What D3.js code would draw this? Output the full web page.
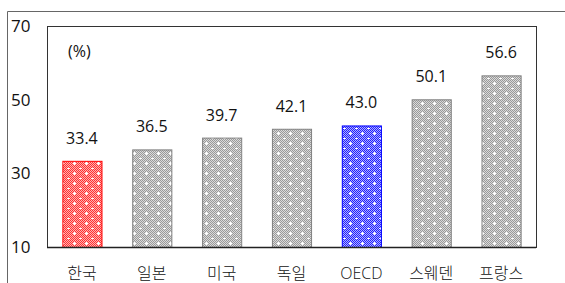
<!DOCTYPE html>
<html>
<head>
<meta charset="utf-8">
<script src="https://cdn.jsdelivr.net/npm/d3@7"></script>
<style>
  body { margin: 0; background: #fff; }
  svg { display: block; font-family: "Open Sans", "Noto Sans CJK KR", sans-serif; }
</style>
</head>
<body>
<svg id="chart" width="565" height="283"></svg>
<script>
var categories = ['한국', '일본', '미국', '독일', 'OECD', '스웨덴', '프랑스'];
var values = [33.4, 36.5, 39.7, 42.1, 43.0, 50.1, 56.6];
var y_ticks = [10, 30, 50, 70];
var highlight = {'한국': 'red', 'OECD': 'blue'};

var palette = {
    red:  {edge: '#ff0000', dark: '#ff3030', light: '#ffb0b0'},
    blue: {edge: '#0000ff', dark: '#2020ff', light: '#b0b0ff'},
    gray: {edge: '#808080', dark: '#999999', light: '#dadada'}
};

var svg = d3.select('#chart');
var padding = {top: 26, left: 47, right: 29, bottom: 36};
var width = 565, height = 283;

// outer frame (only top and left visible)
svg.append('line').attr('x1', 7.5).attr('x2', width).attr('y1', 11.5).attr('y2', 11.5)
    .attr('stroke', '#666').attr('stroke-width', 1);
svg.append('line').attr('x1', 7.5).attr('x2', 7.5).attr('y1', 11.5).attr('y2', height)
    .attr('stroke', '#666').attr('stroke-width', 1);

// hatch-like patterns
var defs = svg.append('defs');
Object.keys(palette).forEach(function(k){
    var c = palette[k];
    var p = defs.append('pattern').attr('id', 'pat-' + k)
        .attr('patternUnits', 'userSpaceOnUse').attr('width', 12).attr('height', 10);
    p.append('rect').attr('width', 12).attr('height', 10).attr('fill', c.light);
    for (var yy = 0; yy < 10; yy++) {
        for (var xx = (yy % 2); xx < 12; xx += 2) {
            p.append('rect').attr('x', xx).attr('y', yy).attr('width', 1).attr('height', 1).attr('fill', c.dark);
        }
    }
    // plus sign
    p.append('rect').attr('x', 2).attr('y', 2).attr('width', 1).attr('height', 3).attr('fill', '#fff');
    p.append('rect').attr('x', 1).attr('y', 3).attr('width', 3).attr('height', 1).attr('fill', '#fff');
    // minus sign
    p.append('rect').attr('x', 7).attr('y', 8).attr('width', 3).attr('height', 1).attr('fill', '#fff');
});

var x_scale = d3.scaleBand()
    .domain(categories)
    .range([padding.left, width - padding.right])
    .paddingInner(0.44).paddingOuter(0.22);

var y_scale = d3.scaleLinear()
    .domain([10, 70])
    .range([height - padding.bottom, padding.top]);

// plot box
svg.append('rect')
    .attr('x', padding.left + 0.5).attr('y', padding.top + 0.5)
    .attr('width', width - padding.left - padding.right)
    .attr('height', height - padding.top - padding.bottom)
    .attr('fill', 'none').attr('stroke', '#333').attr('stroke-width', 1);

// y tick labels
svg.selectAll('.ytick')
    .data(y_ticks)
    .enter()
    .append('text')
    .attr('class', 'ytick')
    .attr('x', 11)
    .attr('y', function(d){ return y_scale(d); })
    .attr('dy', '0.36em')
    .attr('font-size', 17)
    .attr('fill', '#111')
    .text(function(d){ return d; });

// bars
svg.selectAll('.bar')
    .data(categories)
    .enter()
    .append('rect')
    .attr('class', 'bar')
    .attr('x', function(d){ return x_scale(d) + 0.5; })
    .attr('y', function(d, i){ return y_scale(values[i]) + 0.5; })
    .attr('width', x_scale.bandwidth())
    .attr('height', function(d, i){ return y_scale(10) - y_scale(values[i]); })
    .attr('fill', function(d){ return 'url(#pat-' + (highlight[d] || 'gray') + ')'; })
    .attr('stroke', function(d){ return palette[highlight[d] || 'gray'].edge; })
    .attr('stroke-width', 1);

// baseline
svg.append('line')
    .attr('x1', padding.left).attr('x2', width - padding.right)
    .attr('y1', y_scale(10) + 0.5).attr('y2', y_scale(10) + 0.5)
    .attr('stroke', '#222').attr('stroke-width', 1.5);

// value labels
svg.selectAll('.val')
    .data(categories)
    .enter()
    .append('text')
    .attr('class', 'val')
    .attr('x', function(d){ return x_scale(d) + x_scale.bandwidth() / 2; })
    .attr('y', function(d, i){ return y_scale(values[i]) - 17; })
    .attr('text-anchor', 'middle')
    .attr('font-size', 16)
    .attr('fill', '#111')
    .text(function(d, i){ return values[i].toFixed(1); });

// category labels
svg.selectAll('.cat')
    .data(categories)
    .enter()
    .append('text')
    .attr('class', 'cat')
    .attr('x', function(d){ return x_scale(d) + x_scale.bandwidth() / 2; })
    .attr('y', 279)
    .attr('text-anchor', 'middle')
    .attr('font-size', 16)
    .attr('font-weight', 300)
    .attr('fill', '#111')
    .text(function(d){ return d; });

// unit
svg.append('text')
    .attr('x', 68).attr('y', 57)
    .attr('font-size', 16)
    .attr('fill', '#111')
    .text('(%)');
</script>
</body>
</html>
